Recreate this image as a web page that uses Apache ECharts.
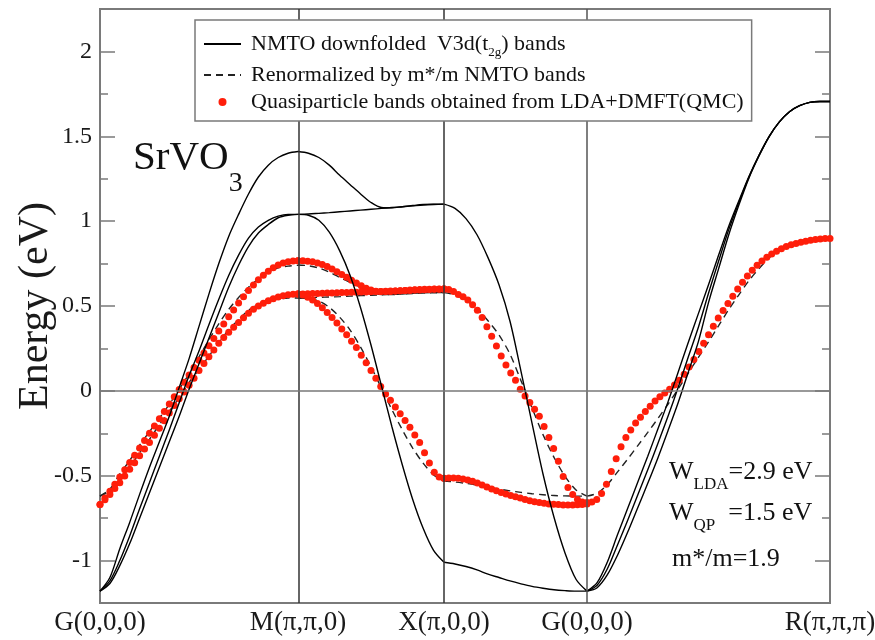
<!DOCTYPE html>
<html>
<head>
<meta charset="utf-8">
<script src="https://cdn.jsdelivr.net/npm/echarts@6/dist/echarts.min.js"></script>
<style>
  html, body { margin: 0; padding: 0; background: #fff; }
  #chart { width: 875px; height: 640px; }
</style>
</head>
<body>
<div id="chart"></div>
<script>
// ---- k-path (high-symmetry points) and tick labels ----
const kPts = [0, 1.3957, 2.4249, 3.4330, 5.1459];
const xLabels = ['G(0,0,0)', 'M(π,π,0)', 'X(π,0,0)', 'G(0,0,0)', 'R(π,π,π)'];
const yMajor = [-1, -0.5, 0, 0.5, 1, 1.5, 2];
const yMinor = [-0.75, -0.25, 0.25, 0.75, 1.25, 1.75];

// ---- NMTO downfolded V3d(t2g) bands (solid), per segment ----
const solidGM_xy = [-1.18, -1.10, -0.93, -0.775, -0.61, -0.45, -0.30, -0.15, 0.02, 0.19, 0.38, 0.57, 0.75, 0.91, 1.04, 1.16, 1.26, 1.33, 1.375, 1.40, 1.41];
const solidGM_xz = [-1.18, -1.12, -1.00, -0.855, -0.695, -0.54, -0.385, -0.23, -0.07, 0.09, 0.235, 0.39, 0.54, 0.68, 0.80, 0.90, 0.965, 1.005, 1.03, 1.04, 1.04];
const solidGM_yz = [-1.18, -1.135, -1.03, -0.90, -0.75, -0.60, -0.45, -0.30, -0.15, 0.01, 0.16, 0.31, 0.46, 0.61, 0.74, 0.85, 0.93, 0.98, 1.02, 1.035, 1.04];
const solidMX_xy = [1.41, 1.40, 1.375, 1.33, 1.27, 1.215, 1.16, 1.11, 1.08, 1.078, 1.085, 1.092, 1.098, 1.10, 1.10];
const solidMX_xz = [1.04, 1.042, 1.046, 1.05, 1.055, 1.06, 1.065, 1.07, 1.075, 1.08, 1.085, 1.09, 1.095, 1.098, 1.10];
const solidMX_yz = [1.04, 1.035, 1.005, 0.935, 0.825, 0.68, 0.49, 0.27, 0.03, -0.21, -0.435, -0.64, -0.81, -0.94, -1.01];
const solidXG_top = [1.10, 1.075, 1.015, 0.92, 0.785, 0.625, 0.41, 0.115, -0.19, -0.49, -0.745, -0.955, -1.11, -1.18];
const solidXG_bot = [-1.01, -1.02, -1.035, -1.055, -1.08, -1.10, -1.12, -1.137, -1.152, -1.163, -1.172, -1.177, -1.18, -1.18];
const solidGR_1 = [-1.18, -1.13, -1.01, -0.85, -0.695, -0.54, -0.385, -0.225, -0.065, 0.11, 0.285, 0.455, 0.625, 0.80, 0.97, 1.12, 1.265, 1.39, 1.50, 1.585, 1.645, 1.68, 1.70, 1.705, 1.705];
const solidGR_2 = [-1.18, -1.145, -1.05, -0.91, -0.765, -0.615, -0.465, -0.31, -0.15, 0.02, 0.20, 0.375, 0.575, 0.765, 0.95, 1.11, 1.26, 1.39, 1.50, 1.585, 1.645, 1.68, 1.70, 1.705, 1.705];
const solidGR_3 = [-1.18, -1.16, -1.085, -0.97, -0.835, -0.69, -0.545, -0.395, -0.235, -0.07, 0.11, 0.29, 0.52, 0.72, 0.92, 1.095, 1.255, 1.385, 1.50, 1.585, 1.645, 1.68, 1.70, 1.705, 1.705];

// ---- Renormalized by m*/m NMTO bands (dashed) ----
const dashGM_xy = [-0.62, -0.58, -0.49, -0.41, -0.32, -0.24, -0.16, -0.08, 0.01, 0.10, 0.20, 0.30, 0.395, 0.48, 0.55, 0.61, 0.66, 0.70, 0.725, 0.735, 0.74];
const dashGM_xz = [-0.62, -0.59, -0.525, -0.45, -0.365, -0.285, -0.20, -0.12, -0.04, 0.05, 0.125, 0.205, 0.285, 0.36, 0.42, 0.475, 0.51, 0.53, 0.54, 0.547, 0.547];
const dashMX_xy = [0.742, 0.737, 0.724, 0.70, 0.668, 0.639, 0.611, 0.584, 0.568, 0.567, 0.571, 0.575, 0.578, 0.579, 0.579];
const dashMX_xz = [0.547, 0.548, 0.551, 0.553, 0.555, 0.558, 0.561, 0.563, 0.566, 0.568, 0.571, 0.574, 0.576, 0.578, 0.579];
const dashMX_yz = [0.547, 0.545, 0.529, 0.492, 0.434, 0.358, 0.258, 0.142, 0.016, -0.11, -0.229, -0.337, -0.426, -0.495, -0.532];
const dashXG_top = [0.579, 0.566, 0.534, 0.484, 0.413, 0.329, 0.216, 0.06, -0.10, -0.258, -0.392, -0.503, -0.584, -0.62];
const dashXG_bot = [-0.532, -0.537, -0.545, -0.555, -0.568, -0.579, -0.589, -0.598, -0.606, -0.612, -0.617, -0.619, -0.62, -0.62];
const dashGR = [-0.62, -0.603, -0.553, -0.479, -0.403, -0.324, -0.245, -0.163, -0.079, 0.011, 0.105, 0.197, 0.289, 0.384, 0.479, 0.566, 0.65, 0.721, 0.784, 0.832, 0.864, 0.883, 0.895, 0.897, 0.897];

// ---- Quasiparticle bands from LDA+DMFT(QMC) (red dots) ----
const qpGM_xy = [-0.67, -0.632, -0.592, -0.55, -0.508, -0.465, -0.422, -0.379, -0.336, -0.293, -0.25, -0.207, -0.164, -0.121, -0.078, -0.035, 0.008, 0.051, 0.094, 0.137, 0.18, 0.223, 0.266, 0.309, 0.352, 0.394, 0.436, 0.477, 0.517, 0.555, 0.591, 0.624, 0.654, 0.681, 0.705, 0.725, 0.741, 0.753, 0.761, 0.765, 0.766];
const qpGM_xz = [-0.67, -0.642, -0.61, -0.576, -0.541, -0.502, -0.462, -0.423, -0.383, -0.343, -0.304, -0.262, -0.22, -0.176, -0.131, -0.087, -0.046, -0.006, 0.033, 0.075, 0.12, 0.161, 0.201, 0.241, 0.281, 0.315, 0.345, 0.375, 0.403, 0.431, 0.458, 0.481, 0.5, 0.516, 0.531, 0.543, 0.553, 0.56, 0.566, 0.569, 0.57];
const qpMX_up = [0.766, 0.766, 0.764, 0.76, 0.754, 0.745, 0.733, 0.718, 0.702, 0.686, 0.669, 0.652, 0.636, 0.62, 0.605, 0.594, 0.587, 0.585, 0.585, 0.586, 0.588, 0.59, 0.592, 0.594, 0.596, 0.597, 0.598, 0.599, 0.6, 0.6, 0.6];
const qpMX_flat = [0.57, 0.571, 0.572, 0.573, 0.574, 0.575, 0.576, 0.577, 0.578, 0.579, 0.58, 0.581, 0.581, 0.582, 0.583, 0.584, 0.585, 0.586, 0.587, 0.588, 0.589, 0.59, 0.591, 0.592, 0.594, 0.595, 0.596, 0.597, 0.598, 0.599, 0.6];
const qpMX_yz = [0.57, 0.565, 0.552, 0.535, 0.515, 0.49, 0.462, 0.432, 0.4, 0.365, 0.33, 0.293, 0.255, 0.21, 0.165, 0.12, 0.075, 0.025, -0.018, -0.055, -0.095, -0.135, -0.175, -0.215, -0.26, -0.305, -0.365, -0.425, -0.48, -0.508, -0.515];
const qpXG_up = [0.60, 0.597, 0.585, 0.568, 0.555, 0.535, 0.508, 0.475, 0.432, 0.378, 0.322, 0.265, 0.205, 0.152, 0.105, 0.062, 0.01, -0.03, -0.068, -0.108, -0.15, -0.21, -0.275, -0.34, -0.415, -0.505, -0.57, -0.61, -0.64, -0.655, -0.66];
const qpXG_low = [-0.515, -0.513, -0.513, -0.515, -0.519, -0.525, -0.533, -0.543, -0.554, -0.566, -0.578, -0.589, -0.599, -0.608, -0.616, -0.624, -0.632, -0.64, -0.647, -0.653, -0.658, -0.662, -0.666, -0.668, -0.67, -0.672, -0.672, -0.672, -0.671, -0.669, -0.667];
const qpGR = [-0.66, -0.655, -0.64, -0.605, -0.55, -0.475, -0.40, -0.33, -0.275, -0.23, -0.19, -0.155, -0.122, -0.09, -0.06, -0.035, -0.012, 0.01, 0.035, 0.062, 0.098, 0.14, 0.185, 0.232, 0.28, 0.33, 0.38, 0.43, 0.473, 0.515, 0.557, 0.6, 0.64, 0.677, 0.71, 0.74, 0.765, 0.787, 0.806, 0.823, 0.838, 0.85, 0.861, 0.869, 0.876, 0.882, 0.887, 0.892, 0.895, 0.897, 0.898];

// ---- helpers ----
// values of one path segment are sampled on a uniform k-grid between two high-symmetry points
function seg(i, ys) {
  const a = kPts[i], b = kPts[i + 1], n = ys.length;
  return ys.map((y, j) => [a + (b - a) * j / (n - 1), y]);
}

const SERIF = 'Liberation Serif';
const RED = '#ff1e0a';
const FRAME = '#7a7a7a';

const solidSets = [[0, solidGM_xy], [0, solidGM_xz], [0, solidGM_yz],
  [1, solidMX_xy], [1, solidMX_xz], [1, solidMX_yz],
  [2, solidXG_top], [2, solidXG_bot],
  [3, solidGR_1], [3, solidGR_2], [3, solidGR_3]];
const dashSets = [[0, dashGM_xy], [0, dashGM_xz],
  [1, dashMX_xy], [1, dashMX_xz], [1, dashMX_yz],
  [2, dashXG_top], [2, dashXG_bot], [3, dashGR]];
const qpSets = [[0, qpGM_xy], [0, qpGM_xz], [1, qpMX_up], [1, qpMX_flat], [1, qpMX_yz],
  [2, qpXG_up], [2, qpXG_low], [3, qpGR]];

const series = [];
// reference lines (vertical lines at M, X, G and the Fermi level)
series.push({
  type: 'line', data: [], z: 1, silent: true,
  markLine: {
    silent: true, symbol: ['none', 'none'], label: { show: false }, animation: false,
    data: [
      { xAxis: kPts[1], lineStyle: { color: '#333', width: 1.5, type: 'solid' } },
      { xAxis: kPts[2], lineStyle: { color: '#333', width: 1.5, type: 'solid' } },
      { xAxis: kPts[3], lineStyle: { color: '#555', width: 1.5, type: 'solid' } },
      { yAxis: 0, lineStyle: { color: '#777', width: 1.5, type: 'solid' } }
    ]
  }
});
dashSets.forEach(([i, ys]) => series.push({
  name: 'Renorm', type: 'line', data: seg(i, ys), smooth: 0.3, symbol: 'none', z: 2,
  itemStyle: { color: 'rgba(0,0,0,0)' },
  lineStyle: { color: '#222', width: 1.4, type: [7, 5] }
}));
series.push({
  name: 'QP', type: 'scatter', z: 3, symbolSize: 7,
  itemStyle: { color: RED, opacity: 1 },
  data: [].concat(...qpSets.map(([i, ys]) => seg(i, ys)))
});
solidSets.forEach(([i, ys]) => series.push({
  name: 'NMTO', type: 'line', data: seg(i, ys), smooth: 0.3, symbol: 'none', z: 4,
  itemStyle: { color: 'rgba(0,0,0,0)' },
  lineStyle: { color: '#000', width: 1.4, type: 'solid' }
}));

const legendText = {
  'NMTO': '{a|NMTO downfolded  V3d(t}{s|2g}{a|) bands}',
  'Renorm': '{b|Renormalized by m*/m NMTO bands}',
  'QP': '{b|Quasiparticle bands obtained from LDA+DMFT(QMC)}'
};

function yAxisDef(pos, vals, len, labels, extra) {
  return Object.assign({
    type: 'value', min: -1.25, max: 2.25, position: pos,
    axisLine: { show: false }, splitLine: { show: false },
    axisTick: { show: true, inside: true, length: len, customValues: vals, lineStyle: { color: FRAME, width: 1.5 } },
    axisLabel: labels ? { show: true, customValues: vals, margin: 8, fontFamily: SERIF, fontSize: 24, color: '#1a1a1a' } : { show: false }
  }, extra || {});
}

const chart = echarts.init(document.getElementById('chart'), null, { renderer: 'canvas' });
chart.setOption({
  backgroundColor: '#fff',
  animation: false,
  grid: {
    left: 100, top: 9, width: 730, height: 594, show: true,
    borderColor: FRAME, borderWidth: 2, backgroundColor: '#fff',
    containLabel: false, outerBoundsMode: 'none'
  },
  xAxis: {
    type: 'value', min: kPts[0], max: kPts[4],
    axisLine: { show: false }, axisTick: { show: false }, splitLine: { show: false },
    axisLabel: {
      customValues: kPts, margin: 6, fontFamily: SERIF, fontSize: 27, color: '#1a1a1a',
      formatter: v => {
        let best = 0;
        kPts.forEach((k, i) => { if (Math.abs(k - v) < Math.abs(kPts[best] - v)) best = i; });
        return xLabels[best];
      }
    }
  },
  yAxis: [
    yAxisDef('left', yMajor, 15, true, {
      name: 'Energy (eV)', nameLocation: 'middle', nameGap: 43, nameMoveOverlap: false,
      nameTextStyle: { fontFamily: SERIF, fontSize: 42, color: '#1a1a1a' }
    }),
    yAxisDef('left', yMinor, 8, false),
    yAxisDef('right', yMajor, 15, false),
    yAxisDef('right', yMinor, 8, false)
  ],
  legend: {
    orient: 'vertical', left: 195, top: 20, z: 10,
    itemWidth: 37, itemHeight: 8, itemGap: 5,
    padding: [13, 8, 8, 8],
    backgroundColor: '#fff', borderColor: FRAME, borderWidth: 1.5,
    selectedMode: false,
    textStyle: {
      fontFamily: SERIF, fontSize: 22, color: '#111', padding: [0, 0, 0, 5],
      rich: {
        a: { fontFamily: SERIF, fontSize: 22, color: '#111', lineHeight: 30 },
        b: { fontFamily: SERIF, fontSize: 22, color: '#111', lineHeight: 22 },
        s: { fontFamily: SERIF, fontSize: 13, color: '#111', lineHeight: 13, verticalAlign: 'bottom' }
      }
    },
    formatter: n => legendText[n],
    data: [
      { name: 'NMTO', itemStyle: { opacity: 0 } },
      { name: 'Renorm', itemStyle: { opacity: 0 } },
      { name: 'QP', icon: 'circle', itemStyle: { color: RED } }
    ]
  },
  graphic: [
    {
      type: 'text', x: 133, y: 158, z: 20,
      style: {
        text: '{a|SrVO}{b|3}', align: 'left', verticalAlign: 'middle',
        rich: {
          a: { fontFamily: SERIF, fontSize: 41, fill: '#111', lineHeight: 79 },
          b: { fontFamily: SERIF, fontSize: 28, fill: '#111', lineHeight: 28, verticalAlign: 'bottom' }
        }
      }
    },
    {
      type: 'text', x: 669, y: 472, z: 20,
      style: {
        text: '{a|W}{s|LDA}{a|=2.9 eV}', align: 'left', verticalAlign: 'middle',
        rich: {
          a: { fontFamily: SERIF, fontSize: 26, fill: '#111', lineHeight: 42 },
          s: { fontFamily: SERIF, fontSize: 17, fill: '#111', lineHeight: 17, verticalAlign: 'bottom' }
        }
      }
    },
    {
      type: 'text', x: 669, y: 513, z: 20,
      style: {
        text: '{a|W}{s|QP}{a|  =1.5 eV}', align: 'left', verticalAlign: 'middle',
        rich: {
          a: { fontFamily: SERIF, fontSize: 26, fill: '#111', lineHeight: 42 },
          s: { fontFamily: SERIF, fontSize: 17, fill: '#111', lineHeight: 17, verticalAlign: 'bottom' }
        }
      }
    },
    {
      type: 'text', x: 672, y: 559, z: 20,
      style: { text: 'm*/m=1.9', align: 'left', verticalAlign: 'middle', font: '26px "Liberation Serif"', fill: '#111' }
    }
  ],
  series: series
});
</script>
</body>
</html>
